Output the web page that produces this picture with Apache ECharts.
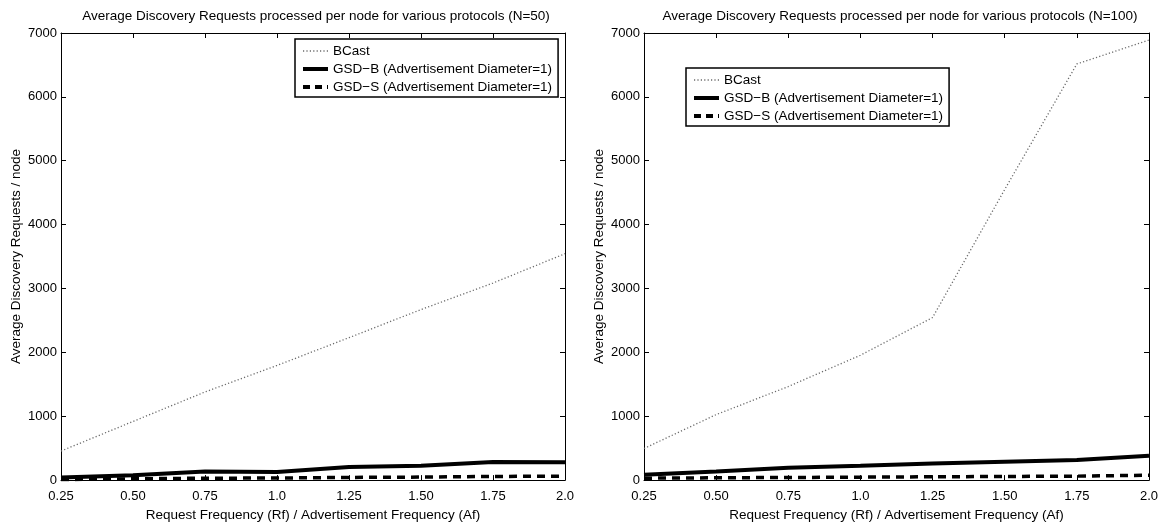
<!DOCTYPE html>
<html>
<head>
<meta charset="utf-8">
<script src="https://cdn.jsdelivr.net/npm/echarts@6/dist/echarts.min.js"></script>
<style>
html,body{margin:0;padding:0;background:#fff;}
#chart{width:1164px;height:527px;}
</style>
</head>
<body>
<div id="chart"></div>
<script>
// ---- data ----
const categories = ['0.25', '0.50', '0.75', '1.0', '1.25', '1.50', '1.75', '2.0'];
const bcast50 = [455, 918, 1380, 1795, 2230, 2670, 3085, 3545];
const gsdB50 = [40, 75, 135, 125, 205, 225, 285, 280];
const gsdS50 = [8, 20, 30, 32, 42, 47, 57, 62];
const bcast100 = [495, 1025, 1465, 1955, 2545, 4550, 6515, 6890];
const gsdB100 = [82, 135, 195, 225, 258, 288, 315, 380];
const gsdS100 = [30, 36, 41, 46, 52, 57, 62, 77];
const seriesNames = ['BCast', 'GSD\u2212B (Advertisement Diameter=1)', 'GSD\u2212S (Advertisement Diameter=1)'];
const titles = ['Average Discovery Requests processed per node for various protocols (N=50)',
                'Average Discovery Requests processed per node for various protocols (N=100)'];
const xName = 'Request Frequency (Rf) / Advertisement Frequency (Af)';
const yName = 'Average Discovery Requests / node';
const yMin = 0, yMax = 7000, yStep = 1000;

const FONT = '"Liberation Sans", Arial, sans-serif';
const chart = echarts.init(document.getElementById('chart'), null, {renderer: 'canvas'});

const grids = [
  {left: 61, right: 599, top: 33, bottom: 43},
  {left: 644, right: 15, top: 33, bottom: 43}
];

const tickStyle = {show: true, inside: true, length: 5, lineStyle: {color: '#000', width: 1}};
const lineAx = {show: true, onZero: false, lineStyle: {color: '#000', width: 1}};
const lblStyle = {color: '#000', fontSize: 13, fontFamily: FONT};
const nameStyle = {color: '#000', fontSize: 13.5, fontFamily: FONT};

const xAxes = [], yAxes = [];
grids.forEach((g, i) => {
  xAxes.push({
    type: 'category', gridIndex: i, data: categories, boundaryGap: false, position: 'bottom',
    axisLine: lineAx, axisTick: tickStyle, splitLine: {show: false},
    axisLabel: Object.assign({margin: 10}, lblStyle),
    name: xName, nameLocation: 'middle', nameGap: 24, nameTextStyle: nameStyle
  });
  xAxes.push({
    type: 'category', gridIndex: i, data: categories, boundaryGap: false, position: 'top',
    axisLine: lineAx, axisTick: tickStyle, axisLabel: {show: false}, splitLine: {show: false}
  });
  yAxes.push({
    type: 'value', gridIndex: i, min: yMin, max: yMax, interval: yStep, position: 'left',
    axisLine: lineAx, axisTick: tickStyle, splitLine: {show: false},
    axisLabel: Object.assign({margin: 4, formatter: v => String(v)}, lblStyle),
    name: yName, nameLocation: 'middle', nameGap: 38, nameTextStyle: nameStyle
  });
  yAxes.push({
    type: 'value', gridIndex: i, min: yMin, max: yMax, interval: yStep, position: 'right',
    axisLine: lineAx, axisTick: tickStyle, axisLabel: {show: false}, splitLine: {show: false}
  });
});

const styles = [
  {color: '#6a6a6a', width: 1.3, type: [1.2, 2.2]},
  {color: '#000', width: 4, type: 'solid'},
  {color: '#000', width: 3.5, type: [8, 6]}
];
const legendLineStyles = [
  {color: '#6a6a6a', width: 1.3, type: [1.2, 2.2]},
  {color: '#000', width: 4, type: 'solid'},
  {color: '#000', width: 4, type: [7, 5]}
];
const dataSets = [[bcast50, gsdB50, gsdS50], [bcast100, gsdB100, gsdS100]];
const series = [];
dataSets.forEach((set, gi) => {
  set.forEach((arr, si) => {
    series.push({
      type: 'line', name: seriesNames[si], data: arr,
      xAxisIndex: gi * 2, yAxisIndex: gi * 2,
      symbol: 'none', smooth: false, silent: true, animation: false,
      lineStyle: styles[si], itemStyle: {color: styles[si].color}, z: 3 - si
    });
  });
});

const legendData = seriesNames.map((n, i) => ({name: n, lineStyle: legendLineStyles[i], itemStyle: {opacity: 0}}));
const legendBase = {
  orient: 'vertical', data: legendData, selectedMode: false,
  itemWidth: 25, itemHeight: 14, itemGap: 4,
  itemStyle: {opacity: 0},
  borderColor: '#000', borderWidth: 1.5, borderRadius: 0,
  padding: [5, 6, 3, 6], backgroundColor: '#fff',
  textStyle: {color: '#000', fontSize: 13.5, fontFamily: FONT}
};

chart.setOption({
  backgroundColor: '#fff',
  animation: false,
  title: [
    {text: titles[0], left: 311, top: 4, textAlign: 'center',
     textStyle: {color: '#000', fontSize: 13.5, fontWeight: 'normal', fontFamily: FONT}},
    {text: titles[1], left: 895, top: 4, textAlign: 'center',
     textStyle: {color: '#000', fontSize: 13.5, fontWeight: 'normal', fontFamily: FONT}}
  ],
  legend: [
    Object.assign({left: 295, top: 39}, legendBase),
    Object.assign({left: 686, top: 68}, legendBase)
  ],
  grid: grids,
  xAxis: xAxes,
  yAxis: yAxes,
  series: series
});
</script>
</body>
</html>
